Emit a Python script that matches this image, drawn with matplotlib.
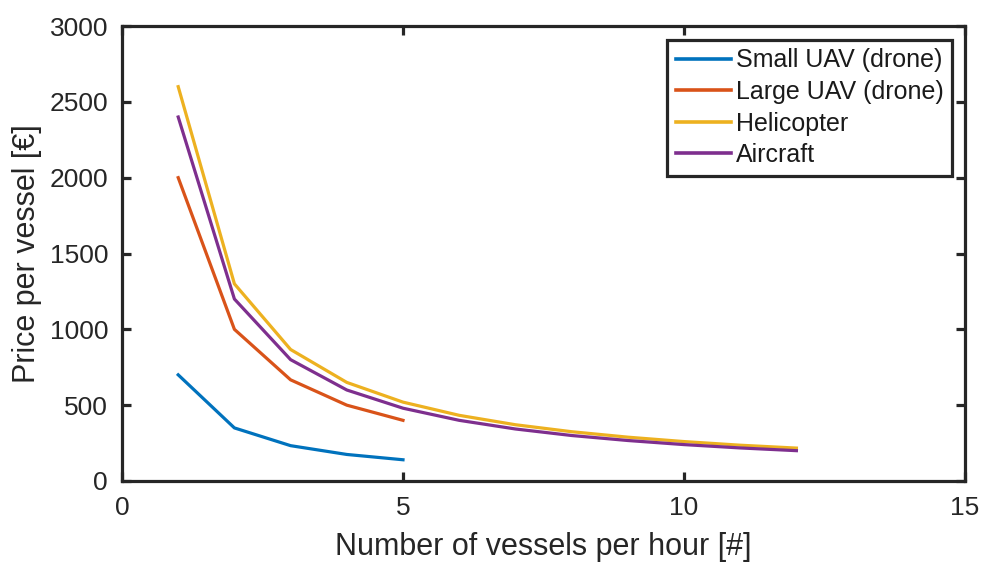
import matplotlib
matplotlib.use("Agg")
import matplotlib.pyplot as plt

plt.rcParams['font.family'] = ['Liberation Sans', 'DejaVu Sans']

n_small = [1, 2, 3, 4, 5]
small_uav = [700, 350, 233, 175, 140]
n_large = [1, 2, 3, 4, 5]
large_uav = [2000, 1000, 667, 500, 400]
n_heli = [1, 2, 3, 4, 5, 6, 7, 8, 9, 10, 11, 12]
helicopter = [2600, 1300, 867, 650, 520, 433, 371, 325, 289, 260, 236, 217]
n_air = [1, 2, 3, 4, 5, 6, 7, 8, 9, 10, 11, 12]
aircraft = [2400, 1200, 800, 600, 480, 400, 343, 300, 267, 240, 218, 200]

xticks = [0, 5, 10, 15]
yticks = [0, 500, 1000, 1500, 2000, 2500, 3000]

fig = plt.figure(figsize=(9.83, 5.63), dpi=100)
ax = fig.add_axes([122/983, 1-481/563, (965-122)/983, (481-26)/563])

lw = 2.3
ax.plot(n_small, small_uav, color='#0072BD', lw=lw, label='Small UAV (drone)')
ax.plot(n_large, large_uav, color='#D95319', lw=lw, label='Large UAV (drone)')
ax.plot(n_heli, helicopter, color='#EDB120', lw=lw, label='Helicopter')
ax.plot(n_air, aircraft, color='#7E2F8E', lw=lw, label='Aircraft')

ax.set_xlim(0, 15)
ax.set_ylim(0, 3000)
ax.set_xticks(xticks)
ax.set_yticks(yticks)

axc = '#262626'
for s in ax.spines.values():
    s.set_linewidth(2.3)
    s.set_color(axc)
ax.tick_params(direction='in', length=6.5, width=2.3, color=axc, labelcolor=axc,
               labelsize=19, top=True, right=True)
ax.tick_params(axis='x', pad=11)
ax.tick_params(axis='y', pad=10)

ax.set_xlabel('Number of vessels per hour [#]', fontsize=22, color=axc)
ax.set_ylabel('Price per vessel [€]', fontsize=22, color=axc)
ax.xaxis.set_label_coords(0.5, -(532-481)/455)
ax.yaxis.set_label_coords((42-122)/843, 0.5)

leg = ax.legend(loc='upper right', fontsize=18, frameon=True, fancybox=False,
                edgecolor=axc, handlelength=2.2, handletextpad=0.2,
                borderpad=0.34, labelspacing=0.3, borderaxespad=0.0,
                bbox_to_anchor=(952/983, 1-40/563), bbox_transform=fig.transFigure,
                framealpha=1)
leg.get_frame().set_linewidth(2.3)
for t in leg.get_texts():
    t.set_color('#1a1a1a')
for h in leg.get_lines():
    h.set_linewidth(2.6)

fig.savefig('out.png', dpi=100)
